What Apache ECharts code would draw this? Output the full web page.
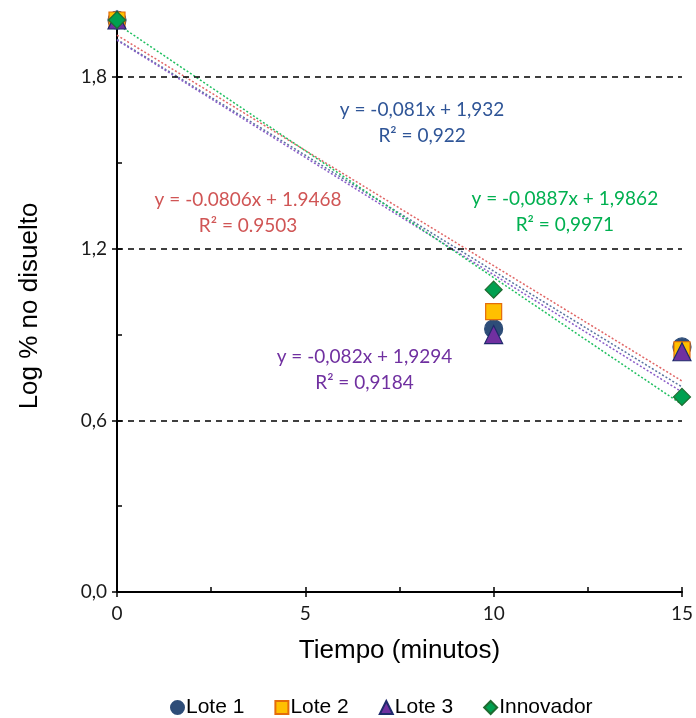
<!DOCTYPE html>
<html><head><meta charset="utf-8">
<script src="https://cdn.jsdelivr.net/npm/echarts@6/dist/echarts.min.js"></script>
<style>html,body{margin:0;padding:0;background:#fff}#c{width:696px;height:718px}</style>
</head><body><div id="c"></div>
<script>
const tiempo = [0, 10, 15];
const lote1 = [2.00, 0.92, 0.857];
const lote2 = [2.00, 0.98, 0.847];
const lote3 = [2.00, 0.90, 0.84];
const innovador = [2.00, 1.057, 0.682];
const seriesNames = ['Lote 1', 'Lote 2', 'Lote 3', 'Innovador'];
const slopes = [-0.081, -0.0806, -0.082, -0.0887];
const intercepts = [1.932, 1.9468, 1.9294, 1.9862];
const eqTexts = [
  'y = -0,081x + 1,932\nR² = 0,922',
  'y = -0.0806x + 1.9468\nR² = 0.9503',
  'y = -0,082x + 1,9294\nR² = 0,9184',
  'y = -0,0887x + 1,9862\nR² = 0,9971'
];
const eqPos = [[8.1, 1.641], [3.48, 1.326], [6.57, 0.775], [11.89, 1.328]];
const yGridLines = [0.6, 1.2, 1.8];

const markerColors = ['#2E4D78', '#FFC000', '#7030A0', '#00A050'];
const markerBorders = ['#2E4D78', '#E46C0A', '#1F2A6B', '#1E6B30'];
const symbols = ['circle', 'rect', 'triangle', 'diamond'];
const sizes = [18, 16, 18, 17];
const trendColors = ['#5A73A0', '#E06666', '#8A5CC8', '#1FBF60'];
const eqColors = ['#2F5597', '#D05555', '#7030A0', '#00B050'];

const values = [lote1, lote2, lote3, innovador];
const chart = echarts.init(document.getElementById('c'));
const font = 'Lato';
const series = [];
values.forEach((v, i) => {
  const x0 = tiempo[0], x1 = tiempo[tiempo.length - 1];
  series.push({
    name: seriesNames[i] + ' trend', type: 'line', xAxisIndex: 0, yAxisIndex: 0,
    data: [[x0, slopes[i] * x0 + intercepts[i]], [x1, slopes[i] * x1 + intercepts[i]]],
    showSymbol: false, symbol: 'none', silent: true, z: 2,
    lineStyle: { color: trendColors[i], width: 1.5, type: [2, 2] }
  });
});
series.push({
  type: 'line', data: [], silent: true,
  markLine: { silent: true, symbol: 'none', label: { show: false },
    lineStyle: { color: '#000', type: [6, 5], width: 1.5 },
    data: yGridLines.map(y => ({ yAxis: y })) }
});
values.forEach((v, i) => {
  series.push({
    name: seriesNames[i], type: 'scatter', z: 5,
    data: tiempo.map((t, k) => [t, v[k]]),
    symbol: symbols[i], symbolSize: sizes[i],
    itemStyle: { color: markerColors[i], borderColor: markerBorders[i], borderWidth: 1.2, opacity: 1 }
  });
});

const option = {
  animation: false,
  grid: { left: 117, right: 14, top: 20, bottom: 126 },
  legend: {
    data: seriesNames.map(n => ({ name: n })),
    top: 692, left: 165, itemGap: 30, itemWidth: 13, itemHeight: 13,
    textStyle: { fontFamily: 'Liberation Sans', fontSize: 21, color: '#000', padding: [0, 0, 0, -3] }
  },
  xAxis: [{
    type: 'value', min: 0, max: 15, interval: 5,
    name: 'Tiempo (minutos)', nameLocation: 'middle', nameGap: 46,
    nameTextStyle: { fontFamily: 'Liberation Sans', fontSize: 26, color: '#000' },
    axisLine: { show: true, onZero: false, lineStyle: { color: '#000', width: 2 } },
    axisTick: { show: true, length: 5, lineStyle: { color: '#000', width: 1.5 } },
    axisLabel: { fontFamily: font, fontSize: 19, color: '#1a1a1a', margin: 12 },
    splitLine: { show: false }
  }, {
    type: 'value', min: 0, max: 15, interval: 2.5, position: 'bottom',
    axisLine: { show: false }, axisLabel: { show: false }, splitLine: { show: false },
    axisTick: { show: true, inside: true, length: 5, lineStyle: { color: '#000', width: 1.5 } }
  }],
  yAxis: [{
    type: 'value', min: 0, max: 2.0, interval: 0.6,
    name: 'Log % no disuelto', nameLocation: 'middle', nameGap: 74,
    nameTextStyle: { fontFamily: 'Liberation Sans', fontSize: 26, color: '#000' },
    axisLine: { show: true, onZero: false, lineStyle: { color: '#000', width: 2 } },
    axisTick: { show: true, length: 5, lineStyle: { color: '#000', width: 1.5 } },
    axisLabel: { fontFamily: font, fontSize: 19, color: '#1a1a1a', margin: 10, showMaxLabel: false,
      formatter: v => v.toFixed(1).replace('.', ',') },
    splitLine: { show: false }
  }, {
    type: 'value', min: 0, max: 2.0, interval: 0.3, position: 'left',
    axisLine: { show: false }, axisLabel: { show: false }, splitLine: { show: false },
    axisTick: { show: true, inside: true, length: 5, lineStyle: { color: '#000', width: 1.5 } }
  }],
  series: series
};
chart.setOption(option);

const graphics = eqTexts.map((t, i) => {
  const p = chart.convertToPixel({ xAxisIndex: 0, yAxisIndex: 0 }, eqPos[i]);
  return {
    type: 'text', x: p[0], y: p[1], z: 10,
    style: { text: t, fill: eqColors[i], font: '19px ' + font, align: 'center',
      verticalAlign: 'middle', lineHeight: 26 }
  };
});
chart.setOption({ graphic: graphics });
</script>
</body></html>
